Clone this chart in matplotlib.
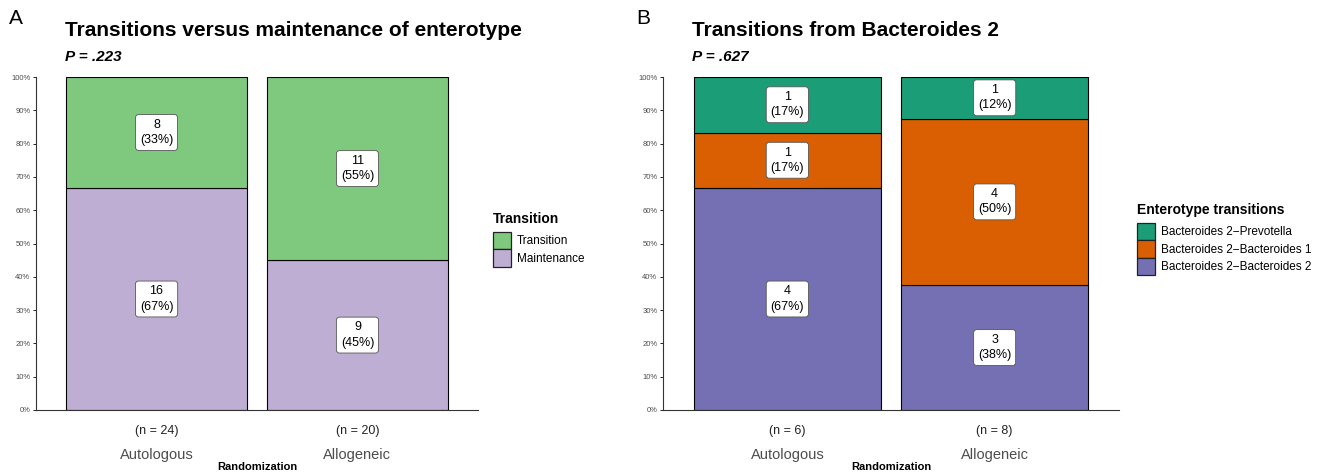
import matplotlib.pyplot as plt
from matplotlib.patches import Patch
from matplotlib.ticker import PercentFormatter

plt.rcParams['font.family'] = ['Liberation Sans', 'DejaVu Sans']

groups = ['Autologous', 'Allogeneic']

# panel A counts
a_categories = ['Maintenance', 'Transition']
a_maintenance = [16, 9]
a_transition = [8, 11]
a_colours = ['#BEAED4', '#7FC97F']

# panel B counts
b_categories = ['Bacteroides 2\u2212Bacteroides 2', 'Bacteroides 2\u2212Bacteroides 1',
                'Bacteroides 2\u2212Prevotella']
b_b2 = [4, 3]
b_b1 = [1, 4]
b_prev = [1, 1]
b_colours = ['#7570B3', '#D95F02', '#1B9E77']


def stacked_panel(fig, rect, series, colours, labels, title, pval, letter, legend_title, legend_pos):
    ax = fig.add_axes(rect)
    xs = [1, 2]
    totals = [sum(s[i] for s in series) for i in range(len(xs))]
    bottoms = [0.0, 0.0]
    for vals, col in zip(series, colours):
        fracs = [v / t for v, t in zip(vals, totals)]
        ax.bar(xs, fracs, bottom=bottoms, width=0.9, color=col, edgecolor='black', linewidth=0.8)
        for x, v, f, b in zip(xs, vals, fracs, bottoms):
            ax.text(x, b + f / 2, f'{v}\n({round(f * 100)}%)', ha='center', va='center',
                    fontsize=9, color='black', linespacing=1.35,
                    bbox=dict(boxstyle='round,pad=0.35,rounding_size=0.25', fc='white',
                              ec='#555555', lw=0.6))
        bottoms = [b + f for b, f in zip(bottoms, fracs)]

    ax.set_xlim(0.4, 2.6)
    ax.set_ylim(0, 1)
    ax.yaxis.set_major_formatter(PercentFormatter(1.0, decimals=0))
    ax.set_yticks([i / 10 for i in range(11)])
    ax.tick_params(axis='y', labelsize=5.5, labelcolor='#4D4D4D', length=2.5, width=0.6, pad=1.5)
    ax.set_xticks(xs)
    ax.set_xticklabels(groups, fontsize=10.5, color='#4D4D4D')
    ax.tick_params(axis='x', length=0, pad=27)
    for x, t in zip(xs, totals):
        ax.text(x, -0.045, f'(n = {t})', ha='center', va='top', fontsize=9, color='#222222',
                transform=ax.get_xaxis_transform())
    ax.set_xlabel('Randomization', fontsize=8, fontweight='bold', labelpad=0)
    for s in ['top', 'right']:
        ax.spines[s].set_visible(False)
    for s in ['left', 'bottom']:
        ax.spines[s].set_linewidth(0.8)
        ax.spines[s].set_color('#333333')

    x0 = rect[0]
    fig.text(x0 + 29 / 1331, 1 - 30 / 474, title, fontsize=15, fontweight='bold', va='center')
    fig.text(x0 + 29 / 1331, 1 - 57 / 474, pval, fontsize=11, fontweight='bold',
             style='italic', va='center')
    fig.text(x0 - 27 / 1331, 1 - 19 / 474, letter, fontsize=15, va='center')

    handles = [Patch(facecolor=c, edgecolor='#222222', linewidth=0.9, label=l)
               for c, l in zip(colours, labels)]
    leg = fig.legend(handles=handles[::-1], title=legend_title, loc='upper left',
                     bbox_to_anchor=legend_pos, frameon=False, fontsize=8.5,
                     title_fontproperties={'weight': 'bold', 'size': 10},
                     handlelength=1.5, handleheight=1.9, handletextpad=0.5,
                     labelspacing=0.0, borderaxespad=0, borderpad=0)
    leg._legend_box.align = 'left'
    leg._legend_box.sep = 4
    return ax


fig = plt.figure(figsize=(13.31, 4.74), dpi=100)

stacked_panel(fig, [36 / 1331, 1 - 410 / 474, 442 / 1331, 333 / 474],
              [a_maintenance, a_transition], a_colours, a_categories,
              'Transitions versus maintenance of enterotype', 'P = .223', 'A',
              'Transition', (493 / 1331, 1 - 212 / 474))

stacked_panel(fig, [663 / 1331, 1 - 410 / 474, 456 / 1331, 333 / 474],
              [b_b2, b_b1, b_prev], b_colours, b_categories,
              'Transitions from Bacteroides 2', 'P = .627', 'B',
              'Enterotype transitions', (1137 / 1331, 1 - 203 / 474))

fig.savefig('out.png', dpi=100)
